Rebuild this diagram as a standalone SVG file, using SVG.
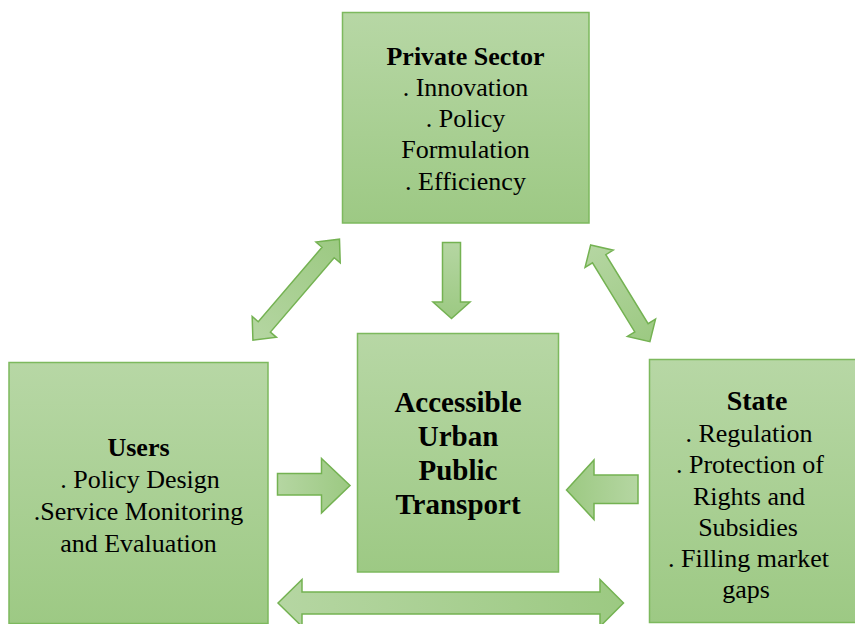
<svg xmlns="http://www.w3.org/2000/svg" width="855" height="624" viewBox="0 0 855 624">
  <defs>
    <linearGradient id="boxFill" x1="0" y1="0" x2="0" y2="1">
      <stop offset="0" stop-color="#b7d7a5"/>
      <stop offset="1" stop-color="#9dc984"/>
    </linearGradient>
    <linearGradient id="arrowFill" x1="0" y1="0" x2="1" y2="0">
      <stop offset="0" stop-color="#b5d6a2"/>
      <stop offset="1" stop-color="#9cc982"/>
    </linearGradient>
    <linearGradient id="arrowFillDown" x1="0" y1="0" x2="0" y2="1">
      <stop offset="0" stop-color="#b5d6a2"/>
      <stop offset="1" stop-color="#9cc982"/>
    </linearGradient>
    <linearGradient id="arrowFillLeft" x1="1" y1="0" x2="0" y2="0">
      <stop offset="0" stop-color="#b5d6a2"/>
      <stop offset="1" stop-color="#9cc982"/>
    </linearGradient>
  </defs>
  <style>
    .box { fill: url(#boxFill); stroke: #7db95e; stroke-width: 1.5; }
    .arrow { fill: url(#arrowFill); stroke: #74b252; stroke-width: 1.5; stroke-linejoin: miter; }
    text { font-family: "Liberation Serif", "Times New Roman", serif; font-size: 26px; fill: #000; text-anchor: middle; }
    .head { font-weight: bold; }
    .big { font-size: 29px; font-weight: bold; }
  </style>

  <rect width="855" height="624" fill="#ffffff"/>

  <!-- connectors -->
  <g id="connectors">
    <!-- private sector <-> users -->
    <path class="arrow" transform="translate(296.2,289.7) rotate(-49.4)"
          d="M -66.5,0 L -49,-16 L -49,-8 L 49,-8 L 49,-16 L 66.5,0 L 49,16 L 49,8 L -49,8 L -49,16 Z"/>
    <!-- private sector <-> state -->
    <path class="arrow" transform="translate(620.3,293.3) rotate(58.5)"
          d="M -56.7,0 L -40.5,-16.5 L -40.5,-7.8 L 40.5,-7.8 L 40.5,-16.5 L 56.7,0 L 40.5,16.5 L 40.5,7.8 L -40.5,7.8 L -40.5,16.5 Z"/>
    <!-- private sector -> transport -->
    <path class="arrow" style="fill:url(#arrowFillDown)"
          d="M 442.5,242.5 L 460.5,242.5 L 460.5,302 L 470,302 L 451.5,318.5 L 433,302 L 442.5,302 Z"/>
    <!-- users -> transport -->
    <path class="arrow"
          d="M 277.5,473.5 L 321.5,473.5 L 321.5,458.5 L 350,485.5 L 321.5,513 L 321.5,495 L 277.5,495 Z"/>
    <!-- state -> transport -->
    <path class="arrow" style="fill:url(#arrowFillLeft)"
          d="M 638,475 L 594,475 L 594,460 L 566.5,490 L 594,519.5 L 594,503.5 L 638,503.5 Z"/>
    <!-- users <-> state -->
    <path class="arrow"
          d="M 278,603 L 302,579.5 L 302,592 L 600,592 L 600,579.5 L 623.5,603 L 600,626.5 L 600,614 L 302,614 L 302,626.5 Z"/>
  </g>

  <!-- Private Sector -->
  <g id="private-sector">
    <rect class="box" x="342.5" y="12.5" width="246.5" height="210.5"/>
    <text class="head" x="465.5" y="65">Private Sector</text>
    <text x="465.5" y="96">. Innovation</text>
    <text x="465.5" y="127">. Policy</text>
    <text x="465.5" y="158">Formulation</text>
    <text x="465.5" y="190">. Efficiency</text>
  </g>

  <!-- Users -->
  <g id="users">
    <rect class="box" x="9" y="362.5" width="259" height="261"/>
    <text class="head" x="138.5" y="456">Users</text>
    <text x="140" y="488">. Policy Design</text>
    <text x="138.5" y="520">.Service Monitoring</text>
    <text x="138.5" y="552">and Evaluation</text>
  </g>

  <!-- Accessible Urban Public Transport -->
  <g id="transport">
    <rect class="box" x="357.5" y="333.5" width="201" height="238.5"/>
    <text class="big" x="458" y="412">Accessible</text>
    <text class="big" x="458" y="446">Urban</text>
    <text class="big" x="458" y="480">Public</text>
    <text class="big" x="458" y="514">Transport</text>
  </g>

  <!-- State -->
  <g id="state">
    <rect class="box" x="649.5" y="359.5" width="210" height="263"/>
    <text class="head" x="757" y="410" style="font-size:28px">State</text>
    <text x="749" y="442">. Regulation</text>
    <text x="750" y="473">. Protection of</text>
    <text x="749" y="505">Rights and</text>
    <text x="748" y="536">Subsidies</text>
    <text x="748.5" y="567">. Filling market</text>
    <text x="746" y="598">gaps</text>
  </g>
</svg>
